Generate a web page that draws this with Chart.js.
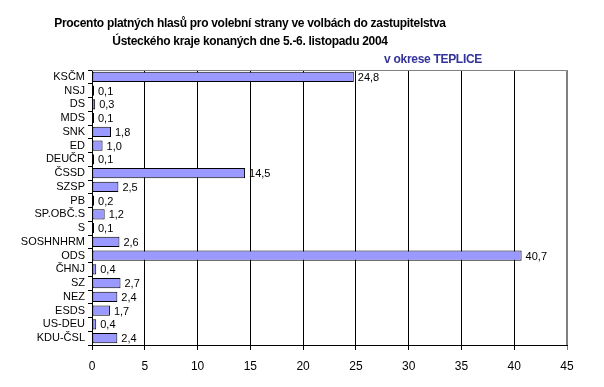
<!DOCTYPE html>
<html>
<head>
<meta charset="utf-8">
<script src="https://cdn.jsdelivr.net/npm/chart.js@4"></script>
<style>
  html, body { margin: 0; padding: 0; background: #fff; }
  #wrap { width: 604px; height: 387px; }
</style>
</head>
<body>
<div id="wrap"><canvas id="chart" width="604" height="387"></canvas></div>
<script>
// ── Data ────────────────────────────────────────────────────────────────
var parties = ['KSČM', 'NSJ', 'DS', 'MDS', 'SNK', 'ED', 'DEUČR', 'ČSSD', 'SZSP', 'PB',
               'SP.OBČ.S', 'S', 'SOSHNHRM', 'ODS', 'ČHNJ', 'SZ', 'NEZ', 'ESDS', 'US-DEU', 'KDU-ČSL'];
var percents = [24.8, 0.1, 0.3, 0.1, 1.8, 1.0, 0.1, 14.5, 2.5, 0.2,
                1.2, 0.1, 2.6, 40.7, 0.4, 2.7, 2.4, 1.7, 0.4, 2.4];
var xTicks = [0, 5, 10, 15, 20, 25, 30, 35, 40, 45];
var titleLines = ['Procento platných hlasů pro volební strany ve volbách do zastupitelstva',
                  'Ústeckého kraje konaných dne 5.-6. listopadu 2004'];
var subtitle = 'v okrese TEPLICE';

var FONT = '"Liberation Sans", Arial, sans-serif';

function fmt(v) { return v.toFixed(1).replace('.', ','); }

// ── Plugins ─────────────────────────────────────────────────────────────
var frameAndText = {
  id: 'frameAndText',
  beforeDatasetsDraw: function (chart) {
    var ctx = chart.ctx, a = chart.chartArea;
    ctx.save();
    ctx.lineWidth = 1;
    ctx.strokeStyle = '#808080';
    ctx.beginPath();
    ctx.moveTo(a.left, a.top + 0.5);
    ctx.lineTo(a.right - 0.5, a.top + 0.5);
    ctx.lineTo(a.right - 0.5, a.bottom);
    ctx.stroke();
    ctx.restore();
  },
  afterDatasetsDraw: function (chart) {
    var ctx = chart.ctx;
    var meta = chart.getDatasetMeta(0);
    ctx.save();
    ctx.font = '11px ' + FONT;
    ctx.fillStyle = '#000';
    ctx.textAlign = 'left';
    ctx.textBaseline = 'middle';
    meta.data.forEach(function (bar, i) {
      ctx.fillText(fmt(percents[i]), bar.x + 4, bar.y + 1);
    });
    ctx.restore();
  },
  afterDraw: function (chart) {
    var ctx = chart.ctx;
    ctx.save();
    ctx.textBaseline = 'middle';
    ctx.textAlign = 'center';
    ctx.fillStyle = '#000';
    ctx.font = 'bold 12px ' + FONT;
    ctx.letterSpacing = '-0.3px';
    ctx.fillText(titleLines[0], 250, 24);
    ctx.fillText(titleLines[1], 250, 42);
    ctx.textAlign = 'right';
    ctx.fillStyle = '#333399';
    ctx.fillText(subtitle, 482, 60);
    ctx.restore();
  }
};

// ── Chart ───────────────────────────────────────────────────────────────
new Chart(document.getElementById('chart').getContext('2d'), {
  type: 'bar',
  data: {
    labels: parties,
    datasets: [{
      data: percents,
      backgroundColor: '#9999FF',
      borderColor: '#000',
      borderWidth: 1,
      borderSkipped: false,
      categoryPercentage: 0.75,
      barPercentage: 1.0,
      minBarLength: 2
    }]
  },
  options: {
    indexAxis: 'y',
    responsive: false,
    animation: false,
    layout: { padding: { top: 70, right: 37, bottom: 0, left: 0 } },
    plugins: {
      legend: { display: false },
      title: { display: false },
      tooltip: { enabled: false }
    },
    scales: {
      x: {
        min: 0, max: 45,
        afterBuildTicks: function (scale) {
          scale.ticks = xTicks.map(function (v) { return { value: v }; });
        },
        afterFit: function (scale) { scale.height = 42; },
        grid: {
          color: function (c) { return c.tick && c.tick.value === 45 ? '#808080' : '#000'; },
          lineWidth: 1,
          tickLength: 5,
          drawTicks: true
        },
        border: { color: '#000', width: 1 },
        ticks: {
          color: '#000',
          font: { family: FONT, size: 12 },
          padding: 9,
          maxRotation: 0
        }
      },
      y: {
        afterFit: function (scale) { scale.width = 92; },
        grid: {
          drawOnChartArea: false,
          drawTicks: true,
          tickLength: 4,
          color: '#000'
        },
        border: { color: '#000', width: 1 },
        ticks: {
          color: '#000',
          font: { family: FONT, size: 11 },
          padding: 3,
          autoSkip: false
        }
      }
    }
  },
  plugins: [frameAndText]
});
</script>
</body>
</html>
